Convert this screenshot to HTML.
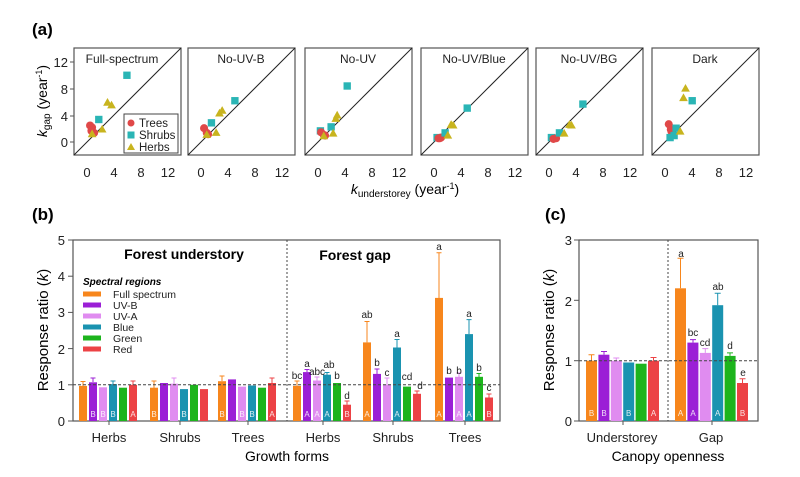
<!DOCTYPE html>
<html><head><meta charset="utf-8"><style>
body{margin:0;background:#fff}
svg{display:block;font-family:"Liberation Sans",Arial,sans-serif}
.bl{fill:#fff;font-size:8px;text-anchor:middle;opacity:.85}
.lt{font-size:10px;text-anchor:middle;fill:#222}
.tk{font-size:13px;fill:#222}
</style></head><body>
<svg width="800" height="477" viewBox="0 0 800 477">
<defs>
<g id="T"><circle r="0.6" fill="#e04848"/></g>
<g id="S"><rect x="-0.55" y="-0.55" width="1.1" height="1.1" fill="#2ab5b5"/></g>
<g id="H"><polygon points="0,0.7 -0.65,-0.45 0.65,-0.45" fill="#c8b41e"/></g>
</defs>
<text x="32" y="35" font-size="17" font-weight="bold">(a)</text>
<text x="32" y="220" font-size="17" font-weight="bold">(b)</text>
<text x="545" y="220" font-size="17" font-weight="bold">(c)</text>

<!-- panel a frames -->
<g fill="none" stroke="#555" stroke-width="1.2">
<rect x="74" y="48" width="107" height="107"/><rect x="188" y="48" width="107" height="107"/>
<rect x="305" y="48" width="107" height="107"/><rect x="421" y="48" width="107" height="107"/>
<rect x="536" y="48" width="107" height="107"/><rect x="652" y="48" width="107" height="107"/>
</g>
<g stroke="#222" stroke-width="1">
<line x1="74" y1="155" x2="181" y2="48"/><line x1="188" y1="155" x2="295" y2="48"/>
<line x1="305" y1="155" x2="412" y2="48"/><line x1="421" y1="155" x2="528" y2="48"/>
<line x1="536" y1="155" x2="643" y2="48"/><line x1="652" y1="155" x2="759" y2="48"/>
</g>
<!-- y ticks a -->
<g stroke="#555"><line x1="70" y1="62" x2="74" y2="62"/><line x1="70" y1="89" x2="74" y2="89"/><line x1="70" y1="116" x2="74" y2="116"/><line x1="70" y1="142" x2="74" y2="142"/></g>
<g class="tk" text-anchor="end"><text x="68" y="67">12</text><text x="68" y="94">8</text><text x="68" y="121">4</text><text x="68" y="147">0</text></g>
<text transform="translate(47,101) rotate(-90)" font-size="14" text-anchor="middle"><tspan font-style="italic">k</tspan><tspan font-size="10" dy="3">gap</tspan><tspan dy="-3"> (year</tspan><tspan font-size="9" dy="-5">-1</tspan><tspan dy="5">)</tspan></text>
<!-- x ticks per panel -->
<g class="tk" text-anchor="middle">
<text x="87" y="177">0</text><text x="114" y="177">4</text><text x="141" y="177">8</text><text x="168" y="177">12</text>
<text x="201" y="177">0</text><text x="228" y="177">4</text><text x="255" y="177">8</text><text x="282" y="177">12</text>
<text x="318" y="177">0</text><text x="345" y="177">4</text><text x="372" y="177">8</text><text x="399" y="177">12</text>
<text x="434" y="177">0</text><text x="461" y="177">4</text><text x="488" y="177">8</text><text x="515" y="177">12</text>
<text x="549" y="177">0</text><text x="576" y="177">4</text><text x="603" y="177">8</text><text x="630" y="177">12</text>
<text x="665" y="177">0</text><text x="692" y="177">4</text><text x="719" y="177">8</text><text x="746" y="177">12</text>
</g>
<text x="405" y="194" font-size="14" text-anchor="middle"><tspan font-style="italic">k</tspan><tspan font-size="10" dy="3">understorey</tspan><tspan dy="-3"> (year</tspan><tspan font-size="9" dy="-5">-1</tspan><tspan dy="5">)</tspan></text>
<g font-size="12" fill="#222" text-anchor="middle">
<text x="122" y="63">Full-spectrum</text><text x="241" y="63">No-UV-B</text><text x="358" y="63">No-UV</text>
<text x="474" y="63">No-UV/Blue</text><text x="589" y="63">No-UV/BG</text><text x="705" y="63">Dark</text>
</g>
<!-- scatter -->
<g transform="translate(87.4,141.6) scale(6.7,-6.7)">
<use href="#T" x="0.4" y="2.4"/><use href="#T" x="0.7" y="2.1"/><use href="#T" x="1" y="1.3"/><use href="#T" x="0.6" y="1.6"/>
<use href="#S" x="5.9" y="9.9"/><use href="#S" x="1.7" y="3.3"/>
<use href="#H" x="3" y="5.8"/><use href="#H" x="3.6" y="5.4"/><use href="#H" x="2.2" y="1.8"/><use href="#H" x="0.7" y="1.1"/>
</g>
<g transform="translate(201.4,141.6) scale(6.7,-6.7)">
<use href="#T" x="0.4" y="2"/><use href="#T" x="0.8" y="1.3"/><use href="#T" x="1" y="1.1"/>
<use href="#S" x="5" y="6.1"/><use href="#S" x="1.5" y="2.8"/>
<use href="#H" x="2.7" y="4.2"/><use href="#H" x="3.1" y="4.6"/><use href="#H" x="2.2" y="1.3"/><use href="#H" x="0.8" y="1"/>
</g>
<g transform="translate(318.4,141.6) scale(6.7,-6.7)">
<use href="#S" x="0.3" y="1.6"/><use href="#T" x="0.4" y="1.4"/><use href="#T" x="0.8" y="1"/><use href="#T" x="1" y="0.9"/>
<use href="#S" x="4.3" y="8.3"/><use href="#S" x="1.9" y="2.2"/>
<use href="#H" x="2.8" y="3.9"/><use href="#H" x="2.6" y="3.4"/><use href="#H" x="2.2" y="1.2"/><use href="#H" x="0.8" y="0.8"/>
</g>
<g transform="translate(434.4,141.6) scale(6.7,-6.7)">
<use href="#S" x="0.4" y="0.6"/><use href="#T" x="0.6" y="0.5"/><use href="#T" x="1" y="0.6"/><use href="#T" x="0.8" y="0.5"/>
<use href="#S" x="4.9" y="5"/><use href="#S" x="1.6" y="1.3"/>
<use href="#H" x="2.5" y="2.5"/><use href="#H" x="2.8" y="2.4"/><use href="#H" x="2" y="0.9"/>
</g>
<g transform="translate(549.4,141.6) scale(6.7,-6.7)">
<use href="#S" x="0.3" y="0.6"/><use href="#T" x="0.6" y="0.4"/><use href="#T" x="1" y="0.5"/>
<use href="#S" x="5" y="5.6"/><use href="#S" x="1.5" y="1.3"/>
<use href="#H" x="3" y="2.5"/><use href="#H" x="3.3" y="2.4"/><use href="#H" x="2.2" y="1.2"/>
</g>
<g transform="translate(665.4,141.6) scale(6.7,-6.7)">
<use href="#T" x="0.5" y="2.6"/><use href="#T" x="0.8" y="1.8"/><use href="#T" x="0.9" y="1.5"/>
<use href="#S" x="4" y="6.1"/><use href="#S" x="1.6" y="2"/><use href="#S" x="0.7" y="0.6"/><use href="#S" x="1.3" y="0.9"/>
<use href="#H" x="3" y="7.9"/><use href="#H" x="2.7" y="6.5"/><use href="#H" x="2.2" y="1.5"/>
</g>
<!-- legend a -->
<rect x="124" y="114" width="54" height="39" fill="#fff" stroke="#444"/>
<circle cx="131" cy="123" r="3.5" fill="#e04848"/><rect x="127.5" y="131.5" width="7" height="7" fill="#2ab5b5"/><polygon points="131,143 127,150 135,150" fill="#c8b41e"/>
<g font-size="11.5" fill="#222"><text x="139" y="127">Trees</text><text x="139" y="139">Shrubs</text><text x="139" y="151">Herbs</text></g>

<!-- PANEL B -->
<rect x="73" y="240" width="427" height="181" fill="none" stroke="#555" stroke-width="1.2"/>
<line x1="287" y1="240" x2="287" y2="421" stroke="#444" stroke-dasharray="2,2"/>
<g stroke="#555"><line x1="68" y1="240" x2="73" y2="240"/><line x1="68" y1="276.2" x2="73" y2="276.2"/><line x1="68" y1="312.4" x2="73" y2="312.4"/><line x1="68" y1="348.6" x2="73" y2="348.6"/><line x1="68" y1="384.8" x2="73" y2="384.8"/><line x1="68" y1="421" x2="73" y2="421"/>
<line x1="109" y1="421" x2="109" y2="425"/><line x1="180" y1="421" x2="180" y2="425"/><line x1="248" y1="421" x2="248" y2="425"/><line x1="323" y1="421" x2="323" y2="425"/><line x1="393" y1="421" x2="393" y2="425"/><line x1="465" y1="421" x2="465" y2="425"/></g>
<g class="tk" text-anchor="end"><text x="65" y="245">5</text><text x="65" y="281">4</text><text x="65" y="317">3</text><text x="65" y="354">2</text><text x="65" y="390">1</text><text x="65" y="426">0</text></g>
<text transform="translate(48,330) rotate(-90)" font-size="15" text-anchor="middle">Response ratio (<tspan font-style="italic">k</tspan>)</text>
<g class="tk" text-anchor="middle" font-size="14"><text x="109" y="442">Herbs</text><text x="180" y="442">Shrubs</text><text x="248" y="442">Trees</text><text x="323" y="442">Herbs</text><text x="393" y="442">Shrubs</text><text x="465" y="442">Trees</text></g>
<text x="287" y="461" font-size="14" text-anchor="middle">Growth forms</text>
<text x="184" y="259" font-size="14" font-weight="bold" text-anchor="middle">Forest understory</text>
<text x="355" y="260" font-size="14" font-weight="bold" text-anchor="middle">Forest gap</text>
<text x="83" y="285" font-size="10" font-weight="bold" font-style="italic">Spectral regions</text>
<g stroke-width="5"><line x1="83" y1="294" x2="101" y2="294" stroke="#f7861c"/><line x1="83" y1="305" x2="101" y2="305" stroke="#9b1fd6"/><line x1="83" y1="316" x2="101" y2="316" stroke="#e08cf0"/><line x1="83" y1="327" x2="101" y2="327" stroke="#1a93b0"/><line x1="83" y1="338" x2="101" y2="338" stroke="#1db41d"/><line x1="83" y1="349" x2="101" y2="349" stroke="#ec4245"/></g>
<g font-size="10.5" fill="#222"><text x="113" y="298">Full spectrum</text><text x="113" y="309">UV-B</text><text x="113" y="320">UV-A</text><text x="113" y="331">Blue</text><text x="113" y="342">Green</text><text x="113" y="353">Red</text></g>

<!-- bars b -->
<g>
<rect x="79" y="385.9" width="8" height="35.1" fill="#f7861c"/><rect x="89" y="382.3" width="8" height="38.7" fill="#9b1fd6"/><rect x="99" y="387.3" width="8" height="33.7" fill="#e08cf0"/><rect x="109" y="384.1" width="8" height="36.9" fill="#1a93b0"/><rect x="119" y="387.7" width="8" height="33.3" fill="#1db41d"/><rect x="129" y="384.8" width="8" height="36.2" fill="#ec4245"/>
<rect x="150" y="387.7" width="8" height="33.3" fill="#f7861c"/><rect x="160" y="383" width="8" height="38" fill="#9b1fd6"/><rect x="170" y="383.7" width="8" height="37.3" fill="#e08cf0"/><rect x="180" y="389.1" width="8" height="31.9" fill="#1a93b0"/><rect x="190" y="384.8" width="8" height="36.2" fill="#1db41d"/><rect x="200" y="389.1" width="8" height="31.9" fill="#ec4245"/>
<rect x="218" y="381.2" width="8" height="39.8" fill="#f7861c"/><rect x="228" y="379.4" width="8" height="41.6" fill="#9b1fd6"/><rect x="238" y="386.6" width="8" height="34.4" fill="#e08cf0"/><rect x="248" y="385.5" width="8" height="35.5" fill="#1a93b0"/><rect x="258" y="387.7" width="8" height="33.3" fill="#1db41d"/><rect x="268" y="383" width="8" height="38" fill="#ec4245"/>
<rect x="293" y="385.9" width="8" height="35.1" fill="#f7861c"/><rect x="303" y="372.1" width="8" height="48.9" fill="#9b1fd6"/><rect x="313" y="380.5" width="8" height="40.5" fill="#e08cf0"/><rect x="323" y="374.7" width="8" height="46.3" fill="#1a93b0"/><rect x="333" y="383" width="8" height="38" fill="#1db41d"/><rect x="343" y="404.7" width="8" height="16.3" fill="#ec4245"/>
<rect x="363" y="342.4" width="8" height="78.6" fill="#f7861c"/><rect x="373" y="373.9" width="8" height="47.1" fill="#9b1fd6"/><rect x="383" y="384.8" width="8" height="36.2" fill="#e08cf0"/><rect x="393" y="347.5" width="8" height="73.5" fill="#1a93b0"/><rect x="403" y="386.6" width="8" height="34.4" fill="#1db41d"/><rect x="413" y="393.8" width="8" height="27.2" fill="#ec4245"/>
<rect x="435" y="297.9" width="8" height="123.1" fill="#f7861c"/><rect x="445" y="377.6" width="8" height="43.4" fill="#9b1fd6"/><rect x="455" y="376.8" width="8" height="44.2" fill="#e08cf0"/><rect x="465" y="334.1" width="8" height="86.9" fill="#1a93b0"/><rect x="475" y="376.8" width="8" height="44.2" fill="#1db41d"/><rect x="485" y="397.5" width="8" height="23.5" fill="#ec4245"/>
</g>
<!-- error bars b (selected) -->
<g stroke-width="1">
<path d="M83 386V381.5M80.5 381.5H85.5" stroke="#f7861c"/><path d="M93 382V378M90.5 378H95.5" stroke="#9b1fd6"/><path d="M113 384V381M110.5 381H115.5" stroke="#1a93b0"/><path d="M133 385V381M130.5 381H135.5" stroke="#ec4245"/>
<path d="M154 388V381M151.5 381H156.5" stroke="#f7861c"/><path d="M174 384V378M171.5 378H176.5" stroke="#e08cf0"/>
<path d="M222 381V376M219.5 376H224.5" stroke="#f7861c"/><path d="M272 383V378M269.5 378H274.5" stroke="#ec4245"/>
<path d="M297 386V381M294.5 381H299.5" stroke="#f7861c"/><path d="M307 372V369.5M304.5 369.5H309.5" stroke="#9b1fd6"/><path d="M317 380.5V377M314.5 377H319.5" stroke="#e08cf0"/><path d="M327 375V372.5M324.5 372.5H329.5" stroke="#1a93b0"/><path d="M347 404.7V401M344.5 401H349.5" stroke="#ec4245"/>
<path d="M367 342.4V321.5M364.5 321.5H369.5" stroke="#f7861c"/><path d="M377 374V369M374.5 369H379.5" stroke="#9b1fd6"/><path d="M387 385V378M384.5 378H389.5" stroke="#e08cf0"/><path d="M397 347.5V339.5M394.5 339.5H399.5" stroke="#1a93b0"/><path d="M417 394V391M414.5 391H419.5" stroke="#ec4245"/>
<path d="M439 298V252.7M436.5 252.7H441.5" stroke="#f7861c"/><path d="M459 377V373M456.5 373H461.5" stroke="#e08cf0"/><path d="M469 334V319.6M466.5 319.6H471.5" stroke="#1a93b0"/><path d="M479 377V373.5M476.5 373.5H481.5" stroke="#1db41d"/><path d="M489 397.5V394M486.5 394H491.5" stroke="#ec4245"/>
</g>
<line x1="73" y1="384.8" x2="500" y2="384.8" stroke="#444" stroke-dasharray="3,2"/>
<g class="lt">
<text x="297" y="379">bc</text><text x="307" y="367">a</text><text x="317" y="375">abc</text><text x="329" y="368">ab</text><text x="337" y="379">b</text><text x="347" y="399">d</text>
<text x="367" y="318">ab</text><text x="377" y="366">b</text><text x="387" y="376">c</text><text x="397" y="337">a</text><text x="407" y="380">cd</text><text x="420" y="389">d</text>
<text x="439" y="250">a</text><text x="449" y="374">b</text><text x="459" y="374">b</text><text x="469" y="317">a</text><text x="479" y="371">b</text><text x="489" y="391">c</text>
</g>
<g class="bl">
<text x="93" y="417">B</text><text x="103" y="417">B</text><text x="113" y="417">B</text><text x="133" y="417">A</text>
<text x="154" y="417">B</text><text x="184" y="417">B</text>
<text x="222" y="417">B</text><text x="242" y="417">B</text><text x="252" y="417">B</text><text x="272" y="417">A</text>
<text x="307" y="417">A</text><text x="317" y="417">A</text><text x="327" y="417">A</text><text x="347" y="417">B</text>
<text x="367" y="417">A</text><text x="397" y="417">A</text>
<text x="439" y="417">A</text><text x="459" y="417">A</text><text x="469" y="417">A</text><text x="489" y="417">B</text>
</g>

<!-- PANEL C -->
<rect x="579" y="240" width="179" height="181" fill="none" stroke="#555" stroke-width="1.2"/>
<line x1="668" y1="240" x2="668" y2="421" stroke="#444" stroke-dasharray="2,2"/>
<g stroke="#555"><line x1="574" y1="240" x2="579" y2="240"/><line x1="574" y1="300.3" x2="579" y2="300.3"/><line x1="574" y1="360.7" x2="579" y2="360.7"/><line x1="574" y1="421" x2="579" y2="421"/><line x1="623" y1="421" x2="623" y2="425"/><line x1="712" y1="421" x2="712" y2="425"/></g>
<g class="tk" text-anchor="end" font-size="14"><text x="572" y="245">3</text><text x="572" y="306">2</text><text x="572" y="366">1</text><text x="572" y="426">0</text></g>
<text transform="translate(554,330) rotate(-90)" font-size="15" text-anchor="middle">Response ratio (<tspan font-style="italic">k</tspan>)</text>
<g class="tk" text-anchor="middle" font-size="14"><text x="622" y="442">Understorey</text><text x="711" y="442">Gap</text></g>
<text x="668" y="461" font-size="14" text-anchor="middle">Canopy openness</text>
<g>
<rect x="586" y="360.7" width="11" height="60.3" fill="#f7861c"/><rect x="598.4" y="354.7" width="11" height="66.3" fill="#9b1fd6"/><rect x="610.8" y="360.7" width="11" height="60.3" fill="#e08cf0"/><rect x="623.2" y="362.5" width="11" height="58.5" fill="#1a93b0"/><rect x="635.6" y="363.7" width="11" height="57.3" fill="#1db41d"/><rect x="648" y="360.7" width="11" height="60.3" fill="#ec4245"/>
<rect x="675" y="288.3" width="11" height="132.7" fill="#f7861c"/><rect x="687.4" y="342.6" width="11" height="78.4" fill="#9b1fd6"/><rect x="699.8" y="352.9" width="11" height="68.1" fill="#e08cf0"/><rect x="712.2" y="305.2" width="11" height="115.8" fill="#1a93b0"/><rect x="724.6" y="355.9" width="11" height="65.1" fill="#1db41d"/><rect x="737" y="383" width="11" height="38" fill="#ec4245"/>
</g>
<g>
<path d="M591.5 360.7V354.7M588.5 354.7H594.5" stroke="#f7861c"/><path d="M604 354.7V351.5M601 351.5H607" stroke="#9b1fd6"/><path d="M616.3 360.7V358M613.3 358H619.3" stroke="#e08cf0"/><path d="M653.5 360.7V357.5M650.5 357.5H656.5" stroke="#ec4245"/>
<path d="M680.5 288.3V258.2M677.5 258.2H683.5" stroke="#f7861c"/><path d="M693 342.6V339.6M690 339.6H696" stroke="#9b1fd6"/><path d="M705.3 352.9V348.6M702.3 348.6H708.3" stroke="#e08cf0"/><path d="M717.7 305.2V293.2M714.7 293.2H720.7" stroke="#1a93b0"/><path d="M730 355.9V352.9M727 352.9H733" stroke="#1db41d"/><path d="M742.5 383V378.8M739.5 378.8H745.5" stroke="#ec4245"/>
</g>
<line x1="579" y1="360.7" x2="758" y2="360.7" stroke="#444" stroke-dasharray="3,2"/>
<g class="lt" font-size="11">
<text x="681" y="257">a</text><text x="693" y="336">bc</text><text x="705" y="346">cd</text><text x="718" y="290">ab</text><text x="730" y="349">d</text><text x="743" y="376">e</text>
</g>
<g class="bl">
<text x="591.5" y="416">B</text><text x="604" y="416">B</text><text x="628.7" y="416">B</text><text x="653.5" y="416">A</text>
<text x="680.5" y="416">A</text><text x="693" y="416">A</text><text x="717.7" y="416">A</text><text x="742.5" y="416">B</text>
</g>
</svg>
</body></html>
